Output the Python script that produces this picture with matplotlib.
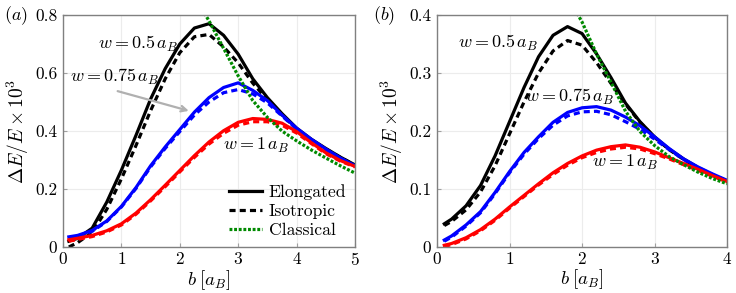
import numpy as np
import matplotlib
matplotlib.use('Agg')
import matplotlib.pyplot as plt
from matplotlib.ticker import FuncFormatter

plt.rcParams['font.family'] = 'cmr10'
plt.rcParams['mathtext.fontset'] = 'cm'
plt.rcParams['axes.formatter.use_mathtext'] = True

# panel (a): values
a_b = [0.1, 0.25, 0.5, 0.75, 1.0, 1.25, 1.5, 1.75, 2.0, 2.25, 2.5, 2.75, 3.0, 3.25, 3.5, 3.75, 4.0, 4.25, 4.5, 4.75, 5.0]
a_elong_05 = [0.02, 0.03, 0.065, 0.155, 0.265, 0.385, 0.51, 0.615, 0.70, 0.755, 0.77, 0.73, 0.665, 0.58, 0.515, 0.46, 0.41, 0.372, 0.34, 0.31, 0.283]
a_iso_05 = [0.0, 0.015, 0.05, 0.13, 0.235, 0.35, 0.47, 0.58, 0.67, 0.725, 0.733, 0.69, 0.635, 0.565, 0.508, 0.455, 0.407, 0.37, 0.338, 0.309, 0.282]
a_elong_075 = [0.035, 0.04, 0.057, 0.09, 0.14, 0.205, 0.28, 0.345, 0.405, 0.465, 0.515, 0.55, 0.566, 0.54, 0.505, 0.455, 0.41, 0.372, 0.338, 0.307, 0.28]
a_iso_075 = [0.03, 0.036, 0.054, 0.088, 0.138, 0.202, 0.276, 0.34, 0.398, 0.455, 0.50, 0.532, 0.543, 0.528, 0.497, 0.452, 0.407, 0.37, 0.336, 0.306, 0.279]
a_elong_1 = [0.025, 0.03, 0.04, 0.056, 0.08, 0.117, 0.163, 0.213, 0.264, 0.315, 0.362, 0.401, 0.43, 0.443, 0.44, 0.427, 0.398, 0.36, 0.325, 0.298, 0.278]
a_iso_1 = [0.02, 0.026, 0.036, 0.052, 0.076, 0.113, 0.159, 0.208, 0.259, 0.309, 0.355, 0.392, 0.42, 0.432, 0.432, 0.42, 0.393, 0.357, 0.322, 0.296, 0.276]
a_class_b = [2.38, 2.5, 2.75, 3.0, 3.25, 3.5, 3.75, 4.0, 4.25, 4.5, 4.75, 5.0]
a_class = [0.82, 0.78, 0.685, 0.59, 0.505, 0.447, 0.40, 0.366, 0.335, 0.307, 0.28, 0.255]

# panel (b)
b_b = [0.1, 0.2, 0.4, 0.6, 0.8, 1.0, 1.2, 1.4, 1.6, 1.8, 2.0, 2.2, 2.4, 2.6, 2.8, 3.0, 3.2, 3.4, 3.6, 3.8, 4.0]
b_elong_05 = [0.04, 0.048, 0.071, 0.106, 0.157, 0.216, 0.275, 0.328, 0.365, 0.38, 0.368, 0.333, 0.292, 0.248, 0.216, 0.19, 0.169, 0.152, 0.137, 0.124, 0.114]
b_iso_05 = [0.037, 0.044, 0.064, 0.095, 0.14, 0.195, 0.25, 0.30, 0.338, 0.356, 0.348, 0.318, 0.282, 0.246, 0.215, 0.189, 0.168, 0.151, 0.136, 0.124, 0.114]
b_elong_075 = [0.012, 0.019, 0.038, 0.061, 0.094, 0.13, 0.163, 0.19, 0.215, 0.232, 0.24, 0.242, 0.236, 0.224, 0.209, 0.19, 0.17, 0.152, 0.138, 0.126, 0.115]
b_iso_075 = [0.01, 0.017, 0.036, 0.059, 0.092, 0.128, 0.16, 0.187, 0.21, 0.226, 0.233, 0.234, 0.228, 0.216, 0.203, 0.186, 0.168, 0.151, 0.137, 0.125, 0.114]
b_elong_1 = [0.003, 0.006, 0.016, 0.03, 0.048, 0.069, 0.089, 0.109, 0.128, 0.144, 0.157, 0.167, 0.173, 0.176, 0.172, 0.164, 0.154, 0.144, 0.134, 0.123, 0.113]
b_iso_1 = [0.001, 0.004, 0.014, 0.028, 0.046, 0.067, 0.087, 0.107, 0.125, 0.141, 0.154, 0.163, 0.169, 0.172, 0.169, 0.161, 0.152, 0.142, 0.132, 0.122, 0.112]
b_class_b = [1.9, 2.0, 2.2, 2.4, 2.6, 2.8, 3.0, 3.2, 3.4, 3.6, 3.8, 4.0]
b_class = [0.41, 0.388, 0.333, 0.284, 0.234, 0.199, 0.175, 0.156, 0.142, 0.129, 0.118, 0.109]

lw = 2.3
dash = (0, (1.9, 1.3))
dot = (0, (0.9, 0.55))
green = '#008a00'

fig = plt.figure(figsize=(7.36, 2.93), dpi=100)
ax1 = fig.add_axes([0.0856, 0.157, 0.3967, 0.7918])
ax2 = fig.add_axes([0.5938, 0.157, 0.394, 0.7918])


def style(ax, xmax, ymax, ystep):
    ax.set_xlim(0, xmax)
    ax.set_ylim(0, ymax)
    ax.set_xticks(np.arange(0, xmax + 0.5, 1))
    ax.set_yticks(np.arange(0, ymax + ystep / 2, ystep))
    ax.yaxis.set_major_formatter(FuncFormatter(lambda v, _: '0' if abs(v) < 1e-9 else '%g' % v))
    ax.grid(True, color='#ececec', lw=0.8)
    ax.set_axisbelow(True)
    for s in ax.spines.values():
        s.set_color('#808080')
        s.set_linewidth(1.0)
    ax.tick_params(direction='in', length=3, color='#a0a0a0', labelsize=12.5, pad=4)
    ax.tick_params(axis='x', pad=3)
    ax.set_xlabel(r'$b\;[a_B]$', fontsize=13.5, labelpad=0)
    ax.set_ylabel(r'$\Delta E/E\times10^3$', fontsize=14, labelpad=3)


style(ax1, 5, 0.8, 0.2)
style(ax2, 4, 0.4, 0.1)

# (a)
for y, c, ls in [(a_elong_05, 'black', '-'), (a_iso_05, 'black', dash),
                 (a_elong_075, 'blue', '-'), (a_iso_075, 'blue', dash),
                 (a_elong_1, 'red', '-'), (a_iso_1, 'red', dash)]:
    ax1.plot(a_b, y, color=c, lw=lw, ls=ls, solid_joinstyle='round')
ax1.plot(a_class_b, a_class, color=green, lw=lw, ls=dot)

ax1.text(0.6, 0.70, r'$w=0.5\,a_B$', fontsize=13, va='center')
ax1.text(0.12, 0.587, r'$w=0.75\,a_B$', fontsize=13, va='center')
ax1.text(2.74, 0.35, r'$w=1\,a_B$', fontsize=13, va='center')
ax1.annotate('', xy=(2.2, 0.467), xytext=(0.89, 0.54),
             arrowprops=dict(arrowstyle='->', color='#b0b0b0', lw=1.6))

ax1.plot([], [], color='black', lw=lw, label='Elongated')
ax1.plot([], [], color='black', lw=lw, ls=dash, label='Isotropic')
ax1.plot([], [], color=green, lw=lw, ls=dot, label='Classical')
ax1.legend(loc='lower right', frameon=False, fontsize=12.7, handlelength=1.9,
           handletextpad=0.35, labelspacing=0.2, borderaxespad=0.1)

# (b)
for y, c, ls in [(b_elong_05, 'black', '-'), (b_iso_05, 'black', dash),
                 (b_elong_075, 'blue', '-'), (b_iso_075, 'blue', dash),
                 (b_elong_1, 'red', '-'), (b_iso_1, 'red', dash)]:
    ax2.plot(b_b, y, color=c, lw=lw, ls=ls, solid_joinstyle='round')
ax2.plot(b_class_b, b_class, color=green, lw=lw, ls=dot)

ax2.text(0.29, 0.352, r'$w=0.5\,a_B$', fontsize=13, va='center')
ax2.text(1.21, 0.259, r'$w=0.75\,a_B$', fontsize=13, va='center')
ax2.text(2.14, 0.145, r'$w=1\,a_B$', fontsize=13, va='center')

fig.text(0.005, 0.948, r'$(a)$', fontsize=13, va='center')
fig.text(0.507, 0.948, r'$(b)$', fontsize=13, va='center')

fig.savefig('out.png', dpi=100)
